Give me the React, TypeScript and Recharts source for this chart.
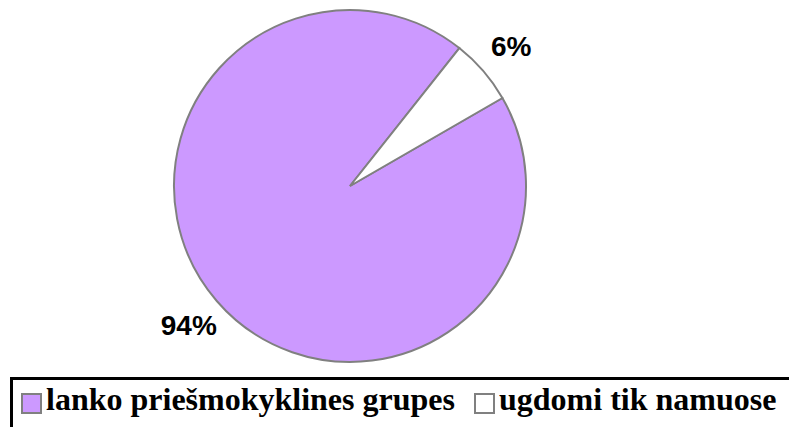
import { Cell, Legend, Pie, PieChart } from 'recharts'

const categories = ['lanko priešmokyklines grupes', 'ugdomi tik namuose']
const values = [94, 6]
const colors = ['#CC99FF', '#FFFFFF']

const data = categories.map((name, i) => ({ name, value: values[i] }))

const RAD = Math.PI / 180
const serif = "'Liberation Serif', Tinos, 'Times New Roman', 'Noto Serif', 'DejaVu Serif', serif"

const renderLabel = (props: any) => {
  const { cx, cy, midAngle, outerRadius, value } = props
  const r = outerRadius + 37
  const x = cx + r * Math.cos(-midAngle * RAD)
  const y = cy + r * Math.sin(-midAngle * RAD)
  return (
    <text
      x={x}
      y={y}
      textAnchor="middle"
      dominantBaseline="central"
      fill="#000"
      style={{ fontFamily: '"Liberation Sans", Arial, sans-serif', fontSize: 28, fontWeight: 700 }}
    >
      {`${value}%`}
    </text>
  )
}

// legend item x offsets inside the box
const itemLeft = [11, 464]

const renderLegend = () => (
  <svg width={820} height={70} style={{ display: 'block' }}>
    <rect x={1.5} y={1.5} width={830} height={80} fill="#fff" stroke="#000" strokeWidth={3} />
    {categories.map((name, i) => (
      <g key={name}>
        <rect x={itemLeft[i] + 1} y={17} width={19} height={19} fill={colors[i]} stroke="#808080" strokeWidth={2} />
        <text
          x={itemLeft[i] + 25}
          y={33}
          fill="#000"
          style={{ fontFamily: serif, fontSize: 32, fontWeight: 700 }}
        >
          {name}
        </text>
      </g>
    ))}
  </svg>
)

export default function App() {
  return (
    <div style={{ width: 789, height: 427, overflow: 'hidden', background: '#fff', position: 'relative' }}>
      <style>{'body{margin:0;overflow:hidden;background:#fff}'}</style>
      <PieChart width={789} height={427} margin={{ top: 0, right: 0, bottom: 0, left: 0 }}>
        <Pie
          data={data}
          dataKey="value"
          nameKey="name"
          cx={350}
          cy={186}
          outerRadius={176}
          startAngle={51.6}
          endAngle={411.6}
          stroke="#808080"
          strokeWidth={2}
          label={renderLabel}
          labelLine={false}
          isAnimationActive={false}
        >
          {data.map((d, i) => (
            <Cell key={d.name} fill={colors[i]} />
          ))}
        </Pie>
        <Legend content={renderLegend} wrapperStyle={{ left: 10, top: 377, width: 820, height: 70, bottom: 'auto' }} />
      </PieChart>
    </div>
  )
}
